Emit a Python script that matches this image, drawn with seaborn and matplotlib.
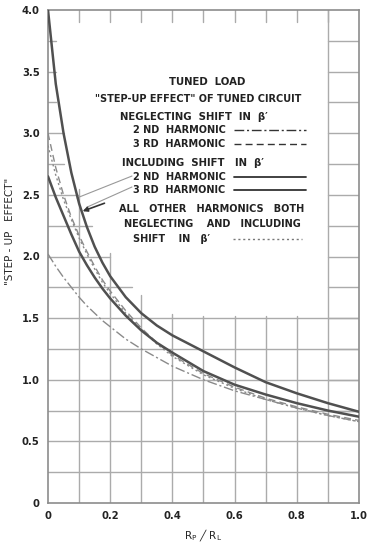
import numpy as np
import pandas as pd
import matplotlib
matplotlib.use("Agg")
import matplotlib.pyplot as plt
import seaborn as sns

# curve values (x = Rp/RL)
x_vals = [0, 0.025, 0.05, 0.075, 0.1, 0.125, 0.15, 0.175, 0.2, 0.25, 0.3, 0.35, 0.4, 0.5, 0.6, 0.7, 0.8, 0.9, 1.0]
incl_2nd = [4.0, 3.40, 3.00, 2.68, 2.43, 2.24, 2.08, 1.95, 1.84, 1.67, 1.54, 1.44, 1.36, 1.23, 1.10, 0.98, 0.89, 0.81, 0.74]
incl_3rd = [2.65, 2.48, 2.33, 2.18, 2.04, 1.93, 1.83, 1.74, 1.66, 1.52, 1.40, 1.30, 1.22, 1.07, 0.96, 0.88, 0.81, 0.75, 0.70]
negl_2nd = [2.02, 1.92, 1.83, 1.75, 1.67, 1.60, 1.54, 1.48, 1.43, 1.33, 1.25, 1.18, 1.11, 1.00, 0.91, 0.84, 0.77, 0.71, 0.66]
negl_3rd = [3.0, 2.72, 2.50, 2.32, 2.17, 2.04, 1.92, 1.81, 1.72, 1.56, 1.42, 1.30, 1.20, 1.05, 0.94, 0.85, 0.78, 0.72, 0.67]
all_other = [2.9, 2.66, 2.46, 2.30, 2.15, 2.02, 1.90, 1.79, 1.70, 1.54, 1.41, 1.29, 1.19, 1.04, 0.93, 0.84, 0.77, 0.71, 0.66]

x_ticks = [0, 0.2, 0.4, 0.6, 0.8, 1.0]
x_ticklabels = ["0", "0.2", "0.4", "0.6", "0.8", "1.0"]
y_ticks = [0, 0.5, 1.0, 1.5, 2.0, 2.5, 3.0, 3.5, 4.0]
y_ticklabels = ["0", "0.5", "1.0", "1.5", "2.0", "2.5", "3.0", "3.5", "4.0"]

sns.set_style("white")
plt.rcParams["font.family"] = ["DejaVu Sans"]
plt.rcParams["font.weight"] = "bold"

fig = plt.figure(figsize=(3.67, 5.45), dpi=100)
ax = fig.add_axes([48 / 367, 1 - 503 / 545, 311 / 367, 493 / 545])
ax.set_xlim(0, 1.0)
ax.set_ylim(0, 4.0)

grid_c = "#ababab"
grid_w = 1.0
# vertical grid lines: top end of each (grid hidden behind the text block)
v_pos = [0.1, 0.2, 0.3, 0.4, 0.5, 0.6, 0.7, 0.8, 0.9]
v_top = [2.55, 2.03, 1.69, 1.53, 1.52, 1.52, 1.52, 1.52, 4.0]
for xv, yt in zip(v_pos, v_top):
    ax.plot([xv, xv], [0, yt], color=grid_c, lw=grid_w, zorder=1)
    ax.plot([xv, xv], [4.0, 3.9], color=grid_c, lw=grid_w, zorder=1)
# horizontal grid lines: right end of left part, plus the full right column
h_pos = [0.25, 0.5, 0.75, 1.0, 1.25, 1.5, 1.75, 2.0, 2.25, 2.5, 2.75, 3.0, 3.25, 3.5, 3.75]
h_end = [1.0, 1.0, 1.0, 1.0, 1.0, 1.0, 0.27, 0.2, 0.14, 0.1, 0.05, 0.05, 0.025, 0.025, 0.025]
for yh, xe in zip(h_pos, h_end):
    ax.plot([0, xe], [yh, yh], color=grid_c, lw=grid_w, zorder=1)
    ax.plot([0.9, 1.0], [yh, yh], color=grid_c, lw=grid_w, zorder=1)

df = pd.DataFrame({"x": x_vals, "incl_2nd": incl_2nd, "incl_3rd": incl_3rd,
                   "negl_2nd": negl_2nd, "negl_3rd": negl_3rd, "all_other": all_other})

curve_c = "#505050"
light_c = "#8a8a8a"
sns.lineplot(data=df, x="x", y="negl_2nd", ax=ax, color=light_c, lw=1.0,
             linestyle=(0, (7, 2, 1.5, 2)), zorder=3)
sns.lineplot(data=df, x="x", y="negl_3rd", ax=ax, color=light_c, lw=1.0,
             linestyle=(0, (5, 3)), zorder=3)
sns.lineplot(data=df, x="x", y="all_other", ax=ax, color=light_c, lw=1.0,
             linestyle=(0, (1.5, 2)), zorder=3)
sns.lineplot(data=df, x="x", y="incl_2nd", ax=ax, color=curve_c, lw=1.8, zorder=4)
sns.lineplot(data=df, x="x", y="incl_3rd", ax=ax, color=curve_c, lw=1.8, zorder=4)

# legend block written on the chart
fs = 7.0
tc = "#222222"
ax.text(0.511, 3.416, "TUNED  LOAD", ha="center", va="center", fontsize=fs + 0.3, color=tc)
ax.text(0.482, 3.278, '"STEP-UP EFFECT" OF TUNED CIRCUIT', ha="center", va="center", fontsize=fs, color=tc)
ax.text(0.232, 3.132, "NEGLECTING  SHIFT  IN  β′", ha="left", va="center", fontsize=fs + 0.3, color=tc)
ax.text(0.273, 3.026, "2 ND  HARMONIC", ha="left", va="center", fontsize=fs, color=tc)
ax.text(0.273, 2.913, "3 RD  HARMONIC", ha="left", va="center", fontsize=fs, color=tc)
ax.text(0.238, 2.759, "INCLUDING  SHIFT   IN  β′", ha="left", va="center", fontsize=fs + 0.3, color=tc)
ax.text(0.273, 2.645, "2 ND  HARMONIC", ha="left", va="center", fontsize=fs, color=tc)
ax.text(0.273, 2.540, "3 RD  HARMONIC", ha="left", va="center", fontsize=fs, color=tc)
ax.text(0.527, 2.385, "ALL   OTHER   HARMONICS   BOTH", ha="center", va="center", fontsize=fs, color=tc)
ax.text(0.530, 2.264, "NEGLECTING    AND   INCLUDING", ha="center", va="center", fontsize=fs, color=tc)
ax.text(0.273, 2.142, "SHIFT    IN   β′", ha="left", va="center", fontsize=fs, color=tc)

ax.plot([0.598, 0.83], [3.026, 3.026], color="#333", lw=1.0, linestyle=(0, (7, 2, 1.5, 2)))
ax.plot([0.598, 0.83], [2.913, 2.913], color="#333", lw=1.0, linestyle=(0, (5, 3)))
ax.plot([0.598, 0.83], [2.645, 2.645], color="#333", lw=1.3)
ax.plot([0.598, 0.83], [2.540, 2.540], color="#333", lw=1.3)
ax.plot([0.595, 0.817], [2.142, 2.142], color="#777", lw=1.0, linestyle=(0, (1.5, 2)))

# leader lines and arrow
ax.plot([0.27, 0.093], [2.653, 2.475], color="#999", lw=0.8, zorder=2)
ax.plot([0.27, 0.125], [2.564, 2.40], color="#999", lw=0.8, zorder=2)
ax.annotate("", xy=(0.103, 2.36), xytext=(0.19, 2.44),
            arrowprops=dict(arrowstyle="-|>", color="#333", lw=1.2, mutation_scale=7))

ax.set_xticks(x_ticks)
ax.set_xticklabels(x_ticklabels)
ax.set_yticks(y_ticks)
ax.set_yticklabels(y_ticklabels)
ax.tick_params(length=0, labelsize=7.2, pad=6, colors="#222")
ax.set_xlabel(r"R$_\mathregular{P}$ ╱ R$_\mathregular{L}$", fontsize=7.5, labelpad=4)
ax.set_ylabel('"STEP - UP   EFFECT"', fontsize=7.5, labelpad=8)
ax.yaxis.set_label_coords(-0.105, 0.55)

for s in ax.spines.values():
    s.set_color("#8c8c8c")
    s.set_linewidth(1.2)

fig.savefig("out.png", dpi=100)
